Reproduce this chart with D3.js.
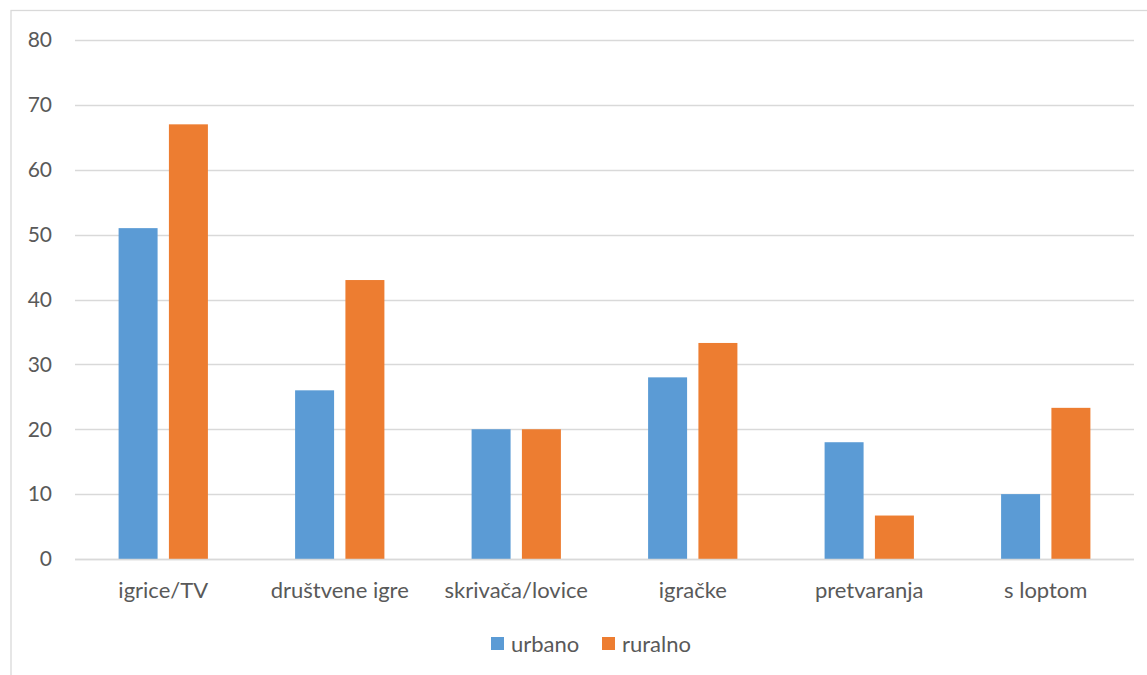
<!DOCTYPE html>
<html>
<head>
<meta charset="utf-8">
<script src="https://cdn.jsdelivr.net/npm/d3@7"></script>
<style>
  body { margin: 0; background: #fff; }
  text { font-family: Lato, "Open Sans", sans-serif; fill: #595959; }
</style>
</head>
<body>
<div id="chart"></div>
<script>
// data
var categories = ["igrice/TV", "društvene igre", "skrivača/lovice", "igračke", "pretvaranja", "s loptom"];
var seriesNames = ["urbano", "ruralno"];
var urbano = [51, 26, 20, 28, 18, 10];
var ruralno = [67, 43, 20, 33.3, 6.7, 23.3];
var yTicks = [0, 10, 20, 30, 40, 50, 60, 70, 80];
var colors = ["#5b9bd5", "#ed7d31"];

var width = 1147, height = 675;

var svg = d3.select("#chart").append("svg")
    .attr("width", width)
    .attr("height", height);

// chart border (cut off right and bottom like the reference)
svg.append("rect")
    .attr("x", 11).attr("y", 10.5)
    .attr("width", 1160).attr("height", 700)
    .attr("fill", "none")
    .attr("stroke", "#d9d9d9")
    .attr("stroke-width", 1.3);

var plotLeft = 75, plotRight = 1134, plotTop = 40, plotBottom = 559;

var x = d3.scaleBand()
    .domain(categories)
    .range([plotLeft, plotRight])
    .paddingInner(0.494)
    .paddingOuter(0.247);

var xs = d3.scaleBand()
    .domain(seriesNames)
    .range([0, x.bandwidth()])
    .paddingInner(0.225);

var y = d3.scaleLinear()
    .domain([0, 80])
    .range([plotBottom, plotTop]);

// gridlines
svg.append("g").selectAll("line")
    .data(yTicks)
    .join("line")
    .attr("x1", plotLeft).attr("x2", plotRight)
    .attr("y1", function(d) { return Math.round(y(d)) + 0.5; })
    .attr("y2", function(d) { return Math.round(y(d)) + 0.5; })
    .attr("stroke", "#d9d9d9")
    .attr("stroke-width", 1.3);

// y tick labels
svg.append("g").selectAll("text")
    .data(yTicks)
    .join("text")
    .attr("x", 52)
    .attr("y", function(d) { return y(d); })
    .attr("dy", "0.35em")
    .attr("text-anchor", "end")
    .style("font-size", "21px")
    .text(function(d) { return d; });

// bars
var rows = categories.map(function(c, i) {
  return { cat: c, values: [urbano[i], ruralno[i]] };
});

var groups = svg.append("g").selectAll("g")
    .data(rows)
    .join("g")
    .attr("transform", function(d) { return "translate(" + x(d.cat) + ",0)"; });

groups.selectAll("rect")
    .data(function(d) { return d.values.map(function(v, j) { return { key: seriesNames[j], v: v, j: j }; }); })
    .join("rect")
    .attr("x", function(d) { return xs(d.key); })
    .attr("y", function(d) { return y(d.v); })
    .attr("width", xs.bandwidth())
    .attr("height", function(d) { return plotBottom - y(d.v); })
    .attr("fill", function(d) { return colors[d.j]; });

// redraw baseline on top
svg.append("line")
    .attr("x1", plotLeft).attr("x2", plotRight)
    .attr("y1", plotBottom + 0.5).attr("y2", plotBottom + 0.5)
    .attr("stroke", "#d9d9d9")
    .attr("stroke-width", 1.3);

// category labels
svg.append("g").selectAll("text")
    .data(categories)
    .join("text")
    .attr("x", function(d) { return x(d) + x.bandwidth() / 2; })
    .attr("y", 598)
    .attr("text-anchor", "middle")
    .style("font-size", "22px")
    .text(function(d) { return d; });

// legend
var legendX = [491, 602];
var legend = svg.append("g").selectAll("g")
    .data(seriesNames)
    .join("g")
    .attr("transform", function(d, i) { return "translate(" + legendX[i] + ",637)"; });

legend.append("rect")
    .attr("width", 13).attr("height", 13)
    .attr("fill", function(d, i) { return colors[i]; });

legend.append("text")
    .attr("x", 20)
    .attr("y", 15)
    .style("font-size", "22px")
    .text(function(d) { return d; });
</script>
</body>
</html>
